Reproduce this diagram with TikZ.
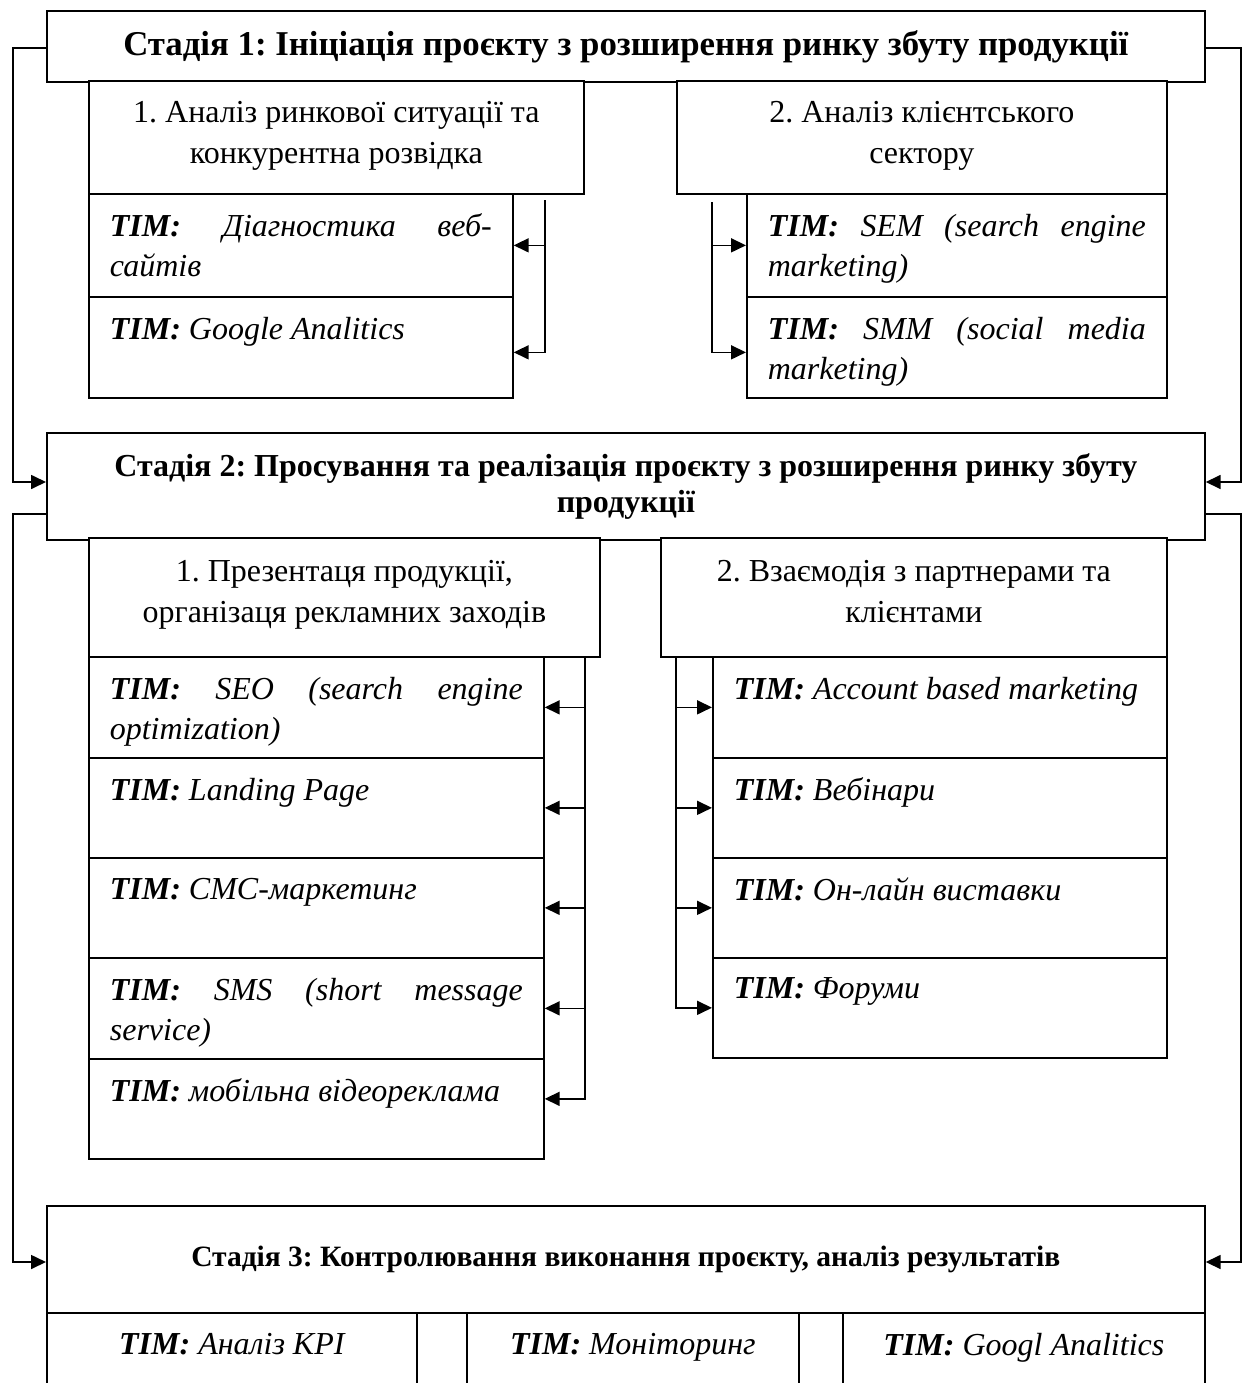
\documentclass[tikz,border=0pt]{standalone}
\usepackage{fontspec}
\setmainfont{Liberation Serif}
\usetikzlibrary{arrows.meta}
\frenchspacing

\newcommand{\cellbox}[3]{\parbox[t][#2][t]{#1}{#3}}
\newcommand{\timlabel}{\textbf{TIM:}}

\tikzset{
	box/.style={draw, line width=1.7pt, fill=white, anchor=north west, inner sep=0pt},
	stagebox/.style={box, align=center, font=\bfseries\fontsize{32}{36}\selectfont},
	subbox/.style={box, font=\fontsize{32}{41}\selectfont},
	timbox/.style={box, font=\itshape\fontsize{32}{40}\selectfont},
	link/.style={line width=1.7pt},
	>={Triangle[length=15pt,width=14pt]}
}

\begin{document}
\begin{tikzpicture}[x=1pt, y=-1pt]
	\clip (0,0) rectangle (1242,1383);
	
	% stage 1
	\node[stagebox, font=\bfseries\fontsize{34.8}{40}\selectfont, minimum width=1158pt, minimum height=71pt] (st1) at (46,10) {Стадія 1: Ініціація проєкту з розширення ринку збуту продукції};
	\node[subbox, minimum width=495pt, minimum height=113pt] (s11) at (88,80) {\cellbox{453pt}{73pt}{\centering 1. Аналіз ринкової ситуації та\\ конкурентна розвідка}};
	\node[subbox, minimum width=490pt, minimum height=113pt] (s12) at (676,80) {\cellbox{448pt}{73pt}{\centering 2. Аналіз клієнтського\\ сектору}};
	
	\node[timbox, minimum width=424pt, minimum height=103pt] (t11) at (88,193) {\cellbox{382pt}{63pt}{\timlabel{} Діагностика веб-\linebreak сайтів}};
	\node[timbox, minimum width=424pt, minimum height=101pt] (t12) at (88,296) {\cellbox{382pt}{61pt}{\timlabel{} Google Analitics}};
	\node[timbox, minimum width=420pt, minimum height=103pt] (t13) at (746,193) {\cellbox{378pt}{63pt}{\timlabel{} SEM (search engine\linebreak marketing)}};
	\node[timbox, minimum width=420pt, minimum height=101pt] (t14) at (746,296) {\cellbox{378pt}{61pt}{\timlabel{} SMM (social media\linebreak marketing)}};
	
	% stage 2
	\node[stagebox, minimum width=1158pt, minimum height=107pt] (st2) at (46,432) {Стадія 2: Просування та реалізація проєкту з розширення ринку збуту\\ продукції};
	\node[subbox, minimum width=511pt, minimum height=119pt] (s21) at (88,537) {\cellbox{469pt}{75pt}{\centering 1. Презентаця продукції,\\ організаця рекламних заходів}};
	\node[subbox, minimum width=506pt, minimum height=119pt] (s22) at (660,537) {\cellbox{464pt}{75pt}{\centering 2. Взаємодія з партнерами та\\ клієнтами}};
	
	\node[timbox, minimum width=455pt, minimum height=101pt] (l1) at (88,656) {\cellbox{413pt}{61pt}{\timlabel{} SEO (search engine\linebreak optimization)}};
	\node[timbox, minimum width=455pt, minimum height=100pt] (l2) at (88,757) {\cellbox{413pt}{60pt}{\timlabel{} Landing Page}};
	\node[timbox, minimum width=455pt, minimum height=100pt] (l3) at (88,857) {\cellbox{413pt}{60pt}{\timlabel{} СМС-маркетинг}};
	\node[timbox, minimum width=455pt, minimum height=101pt] (l4) at (88,957) {\cellbox{413pt}{61pt}{\timlabel{} SMS (short message\linebreak service)}};
	\node[timbox, minimum width=455pt, minimum height=100pt] (l5) at (88,1058) {\cellbox{413pt}{60pt}{\timlabel{} мобільна відеореклама}};
	
	\node[timbox, minimum width=454pt, minimum height=101pt] (r1) at (712,656) {\cellbox{412pt}{61pt}{\timlabel{} Account based marketing}};
	\node[timbox, minimum width=454pt, minimum height=100pt] (r2) at (712,757) {\cellbox{412pt}{60pt}{\timlabel{} Вебінари}};
	\node[timbox, minimum width=454pt, minimum height=100pt] (r3) at (712,857) {\cellbox{412pt}{60pt}{\timlabel{} Он-лайн виставки}};
	\node[timbox, minimum width=454pt, minimum height=100pt] (r4) at (712,957) {\cellbox{412pt}{60pt}{\timlabel{} Форуми}};
	
	% stage 3
	\node[stagebox, font=\bfseries\fontsize{29.5}{36}\selectfont, minimum width=1158pt, minimum height=107pt] (st3) at (46,1205) {Стадія 3: Контролювання виконання проєкту, аналіз результатів};
	\node[timbox, minimum width=370pt, minimum height=90pt] (c1) at (46,1312) {\cellbox{350pt}{50pt}{\centering\timlabel{} Аналіз KPI}};
	\node[box, minimum width=50pt, minimum height=90pt] (g1) at (416,1312) {};
	\node[timbox, minimum width=332pt, minimum height=90pt] (c2) at (466,1312) {\cellbox{312pt}{50pt}{\centering\timlabel{} Моніторинг}};
	\node[box, minimum width=44pt, minimum height=90pt] (g2) at (798,1312) {};
	\node[timbox, minimum width=362pt, minimum height=90pt] (c3) at (842,1312) {\cellbox{342pt}{50pt}{\centering\timlabel{} Googl Analitics}};
	
	% loops between the stages
	\draw[link, ->] ([yshift=-38pt]st1.north west) -- ++(-33,0) |- ([yshift=-50pt]st2.north west);
	\draw[link, ->] ([yshift=-38pt]st1.north east) -- ++(35,0) |- ([yshift=-50pt]st2.north east);
	\draw[link, ->] ([yshift=-82pt]st2.north west) -- ++(-33,0) |- ([yshift=-57pt]st3.north west);
	\draw[link, ->] ([yshift=-82pt]st2.north east) -- ++(35,0) |- ([yshift=-57pt]st3.north east);
	
	% brackets of stage 1
	\coordinate (k1) at ([xshift=31pt,yshift=-7pt]t11.north east);
	\draw[link, ->] (k1) |- ([yshift=-5pt]t12.east);
	\draw[link, ->] (k1 |- t11.east) -- (t11.east);
	
	\coordinate (k2) at ([xshift=-34pt,yshift=-9pt]t13.north west);
	\draw[link, ->] (k2) |- ([yshift=-5pt]t14.west);
	\draw[link, ->] (k2 |- t13.west) -- (t13.west);
	
	% brackets of stage 2
	\coordinate (k3) at ([xshift=40pt]l1.north east);
	\draw[link, ->] (k3) |- ([yshift=10pt]l5.east);
	\draw[link, ->] (k3 |- l1.east) -- (l1.east);
	\draw[link, ->] (k3 |- l2.east) -- (l2.east);
	\draw[link, ->] (k3 |- l3.east) -- (l3.east);
	\draw[link, ->] (k3 |- l4.east) -- (l4.east);
	
	\coordinate (k4) at ([xshift=-36pt]r1.north west);
	\draw[link, ->] (k4) |- (r4.west);
	\draw[link, ->] (k4 |- r1.west) -- (r1.west);
	\draw[link, ->] (k4 |- r2.west) -- (r2.west);
	\draw[link, ->] (k4 |- r3.west) -- (r3.west);
\end{tikzpicture}
\end{document}
